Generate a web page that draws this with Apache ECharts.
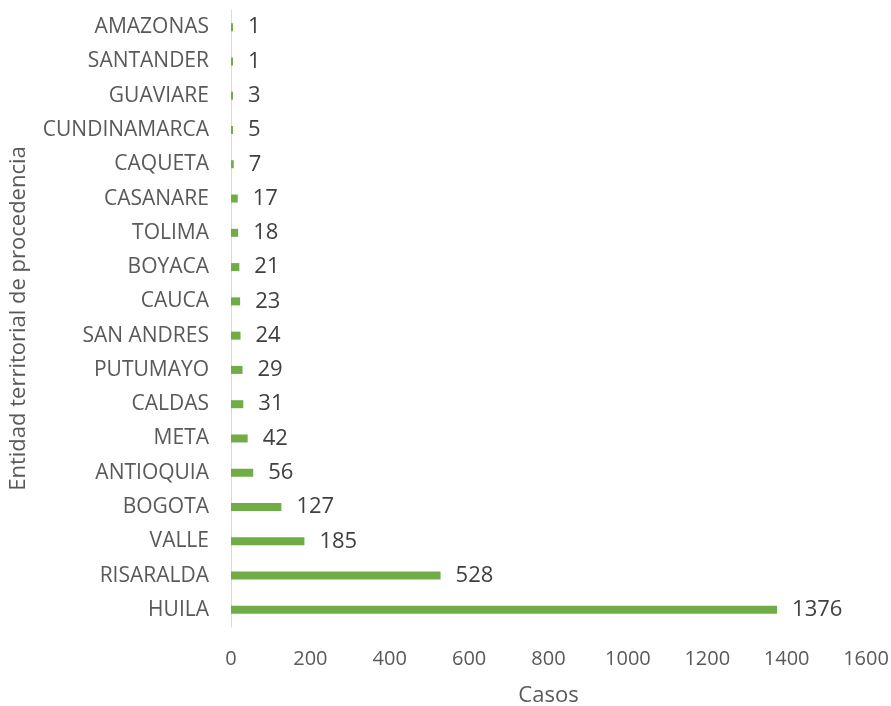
<!DOCTYPE html>
<html><head><meta charset="utf-8">
<script src="https://cdn.jsdelivr.net/npm/echarts@6/dist/echarts.min.js"></script>
<style>html,body{margin:0;padding:0;background:#fff}#c{width:891px;height:706px}</style>
</head><body><div id="c"></div>
<script>
const categories = ["HUILA","RISARALDA","VALLE","BOGOTA","ANTIOQUIA","META","CALDAS","PUTUMAYO","SAN ANDRES","CAUCA","BOYACA","TOLIMA","CASANARE","CAQUETA","CUNDINAMARCA","GUAVIARE","SANTANDER","AMAZONAS"];
const casos = [1376,528,185,127,56,42,31,29,24,23,21,18,17,7,5,3,1,1];
const xTicks = [0,200,400,600,800,1000,1200,1400,1600];
const font = "'Open Sans', sans-serif";
const chart = echarts.init(document.getElementById('c'));
chart.setOption({
  animation:false,
  grid:{left:231,right:25,top:10,bottom:79,containLabel:false,outerBoundsMode:'none'},
  xAxis:{type:'value',min:xTicks[0],max:xTicks[xTicks.length-1],interval:200,
    axisLine:{show:false},axisTick:{show:false},splitLine:{show:false},
    axisLabel:{color:'#595959',fontSize:20,fontFamily:font,margin:22,formatter:v=>String(v)},
    name:'Casos',nameLocation:'middle',nameGap:58,
    nameTextStyle:{color:'#595959',fontSize:22,fontFamily:font}},
  yAxis:{type:'category',data:categories,
    axisLine:{show:true,lineStyle:{color:'#d9d9d9',width:1}},axisTick:{show:false},
    axisLabel:{color:'#595959',fontSize:21,fontFamily:font,margin:22},
    name:'Entidad territorial de procedencia',nameLocation:'middle',nameGap:201,
    nameTextStyle:{color:'#595959',fontSize:22,fontFamily:font}},
  series:[{type:'bar',data:casos,barWidth:8,barMinHeight:2,itemStyle:{color:'#70AD47'},
    label:{show:true,position:'right',distance:15,color:'#404040',fontSize:22,fontFamily:font}}]
});
</script></body></html>
